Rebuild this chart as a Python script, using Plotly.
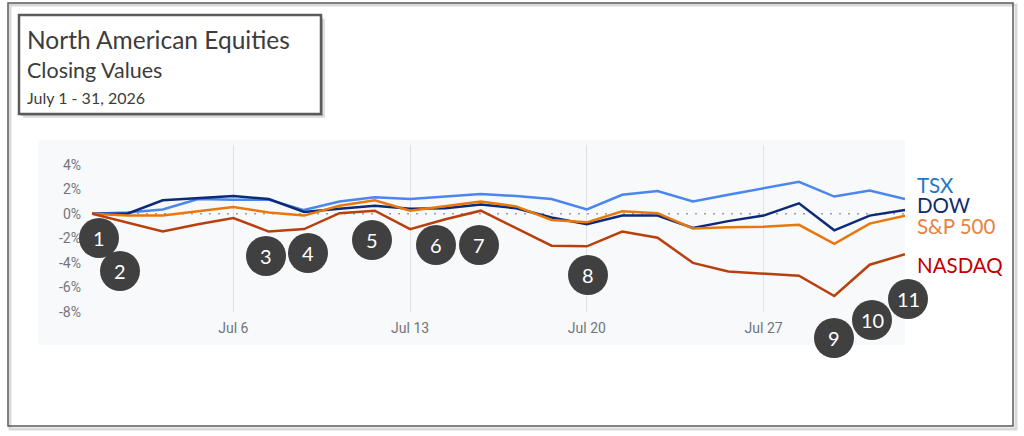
import plotly.graph_objects as go

# trading days shown on the chart (first one is the previous close, baseline 0%)
dates = ["Jun 30", "Jul 1", "Jul 2", "Jul 3", "Jul 6", "Jul 7", "Jul 8", "Jul 9", "Jul 10",
         "Jul 13", "Jul 14", "Jul 15", "Jul 16", "Jul 17", "Jul 20", "Jul 21", "Jul 22",
         "Jul 23", "Jul 24", "Jul 27", "Jul 28", "Jul 29", "Jul 30", "Jul 31"]

# % change vs previous close
tsx = [0, 0.1, 0.35, 1.2, 1.15, 1.15, 0.3, 1.0, 1.35, 1.2, 1.4, 1.6,
       1.45, 1.2, 0.35, 1.55, 1.85, 1.0, 1.55, 2.1, 2.6, 1.4, 1.9, 1.2]
dow = [0, 0, 1.1, 1.3, 1.45, 1.2, 0.15, 0.4, 0.65, 0.4, 0.45, 0.75,
       0.45, -0.3, -0.85, -0.15, -0.15, -1.15, -0.6, -0.15, 0.85, -1.35, -0.15, 0.3]
sp500 = [0, -0.15, -0.15, 0.2, 0.55, 0.1, -0.15, 0.65, 1.1, 0.25, 0.65, 1.0,
         0.6, -0.5, -0.7, 0.2, 0.05, -1.2, -1.1, -1.05, -0.9, -2.45, -0.8, -0.15]
nasdaq = [0, -0.7, -1.45, -0.85, -0.35, -1.45, -1.25, 0.05, 0.25, -1.25, -0.45, 0.25,
          -1.15, -2.6, -2.65, -1.45, -1.95, -4.0, -4.7, -4.9, -5.05, -6.7, -4.15, -3.3]

tick_dates = ["Jul 6", "Jul 13", "Jul 20", "Jul 27"]
y_ticks = [4, 2, 0, -2, -4, -6, -8]
y_labels = ["4%", "2%", "0%", "-2%", "-4%", "-6%", "-8%"]

# numbered callout badges, centre in page pixels
callout_labels = ["1", "2", "3", "4", "5", "6", "7", "8", "9", "10", "11"]
callout_px = [(99, 238), (120, 271), (266, 256), (308, 253), (372, 240), (436, 245),
              (479, 245), (588, 275), (834, 338), (872, 320), (908, 299)]

series = [
    ("TSX", tsx, "#4a86f0", "#1f78c8", 185),
    ("DOW", dow, "#0d2a78", "#0f2c6e", 205),
    ("S&P 500", sp500, "#e8770c", "#e8823e", 226),
    ("NASDAQ", nasdaq, "#b8400c", "#c00000", 265),
]

W, H = 1024, 436
L, R, T, B = 92, 119, 145, 124
PW, PH = W - L - R, H - T - B


def fx(x):
    return (x - L) / PW


def fy(y):
    return (H - B - y) / PH


def rect(x0, y0, x1, y1, **kw):
    return dict(type="rect", xref="paper", yref="paper",
                x0=fx(x0), x1=fx(x1), y0=fy(y1), y1=fy(y0), layer="below", **kw)


pos = list(range(len(dates)))

fig = go.Figure()
for name, vals, color, _, _ in series:
    fig.add_trace(go.Scatter(x=pos, y=vals, mode="lines", name=name,
                             line=dict(color=color, width=2.5)))

shapes = [
    # outer frame with shadow
    rect(10, 5, 1016, 429, line=dict(color="rgba(0,0,0,0.15)", width=3)),
    rect(8, 3, 1013, 426, line=dict(color="#5a5a5a", width=1.5)),
    # chart panel
    rect(38, 140, 905, 345, fillcolor="#f8f9fb", line=dict(width=0)),
    # title box with shadow
    rect(23, 19, 325, 118, fillcolor="rgba(0,0,0,0.12)", line=dict(width=0)),
    rect(21, 17, 323, 116, fillcolor="rgba(0,0,0,0.18)", line=dict(width=0)),
    rect(19, 15, 321, 114, fillcolor="white", line=dict(color="#5b5b5b", width=2.5)),
    # previous close line
    dict(type="line", xref="x", yref="y", x0=0, x1=len(dates) - 1, y0=0, y1=0,
         layer="below", line=dict(color="#9aa0a6", width=1.5, dash="2px,7px")),
]

annotations = []
for text, y, size in [("North American Equities", 39, 24.5), ("Closing Values", 70, 21.5),
                      ("July 1 - 31, 2026", 97, 16)]:
    annotations.append(dict(xref="paper", yref="paper", x=fx(25), y=fy(y), text=text,
                            showarrow=False, xanchor="left", yanchor="middle",
                            font=dict(family="Lato", size=size, color="#3c3c3c")))
for name, _, _, tcolor, y in series:
    annotations.append(dict(xref="paper", yref="paper", x=fx(915), y=fy(y), text=name,
                            showarrow=False, xanchor="left", yanchor="middle",
                            font=dict(family="Lato", size=20.5, color=tcolor)))

for label, (cx, cy) in zip(callout_labels, callout_px):
    shapes.append(dict(type="circle", xref="paper", yref="paper",
                       xsizemode="pixel", ysizemode="pixel",
                       xanchor=fx(cx), yanchor=fy(cy), x0=-20, x1=20, y0=-20, y1=20,
                       fillcolor="#404040", line=dict(width=0), layer="above"))
    annotations.append(dict(xref="paper", yref="paper", x=fx(cx), y=fy(cy), text=label,
                            showarrow=False, xanchor="center", yanchor="middle",
                            font=dict(family="Lato", size=20, color="white")))

fig.update_layout(
    width=W, height=H,
    margin=dict(l=L, r=R, t=T, b=B, pad=0),
    paper_bgcolor="white",
    plot_bgcolor="#f8f9fb",
    showlegend=False,
    shapes=shapes,
    annotations=annotations,
    font=dict(family="Roboto", size=14, color="#70757a"),
)
fig.update_xaxes(range=[0, len(dates) - 1], tickvals=[dates.index(d) for d in tick_dates],
                 ticktext=tick_dates, showgrid=True, gridcolor="#dfe2e6", gridwidth=1,
                 zeroline=False, showline=False, ticks="", ticklabelstandoff=6)
fig.update_yaxes(range=[-8, 5.6], tickvals=y_ticks, ticktext=y_labels, showgrid=False,
                 zeroline=False, showline=False, ticks="", ticklabelstandoff=10)

fig.write_html("out.html", config={"displayModeBar": False},
               post_script="document.body.style.margin = '0';")
